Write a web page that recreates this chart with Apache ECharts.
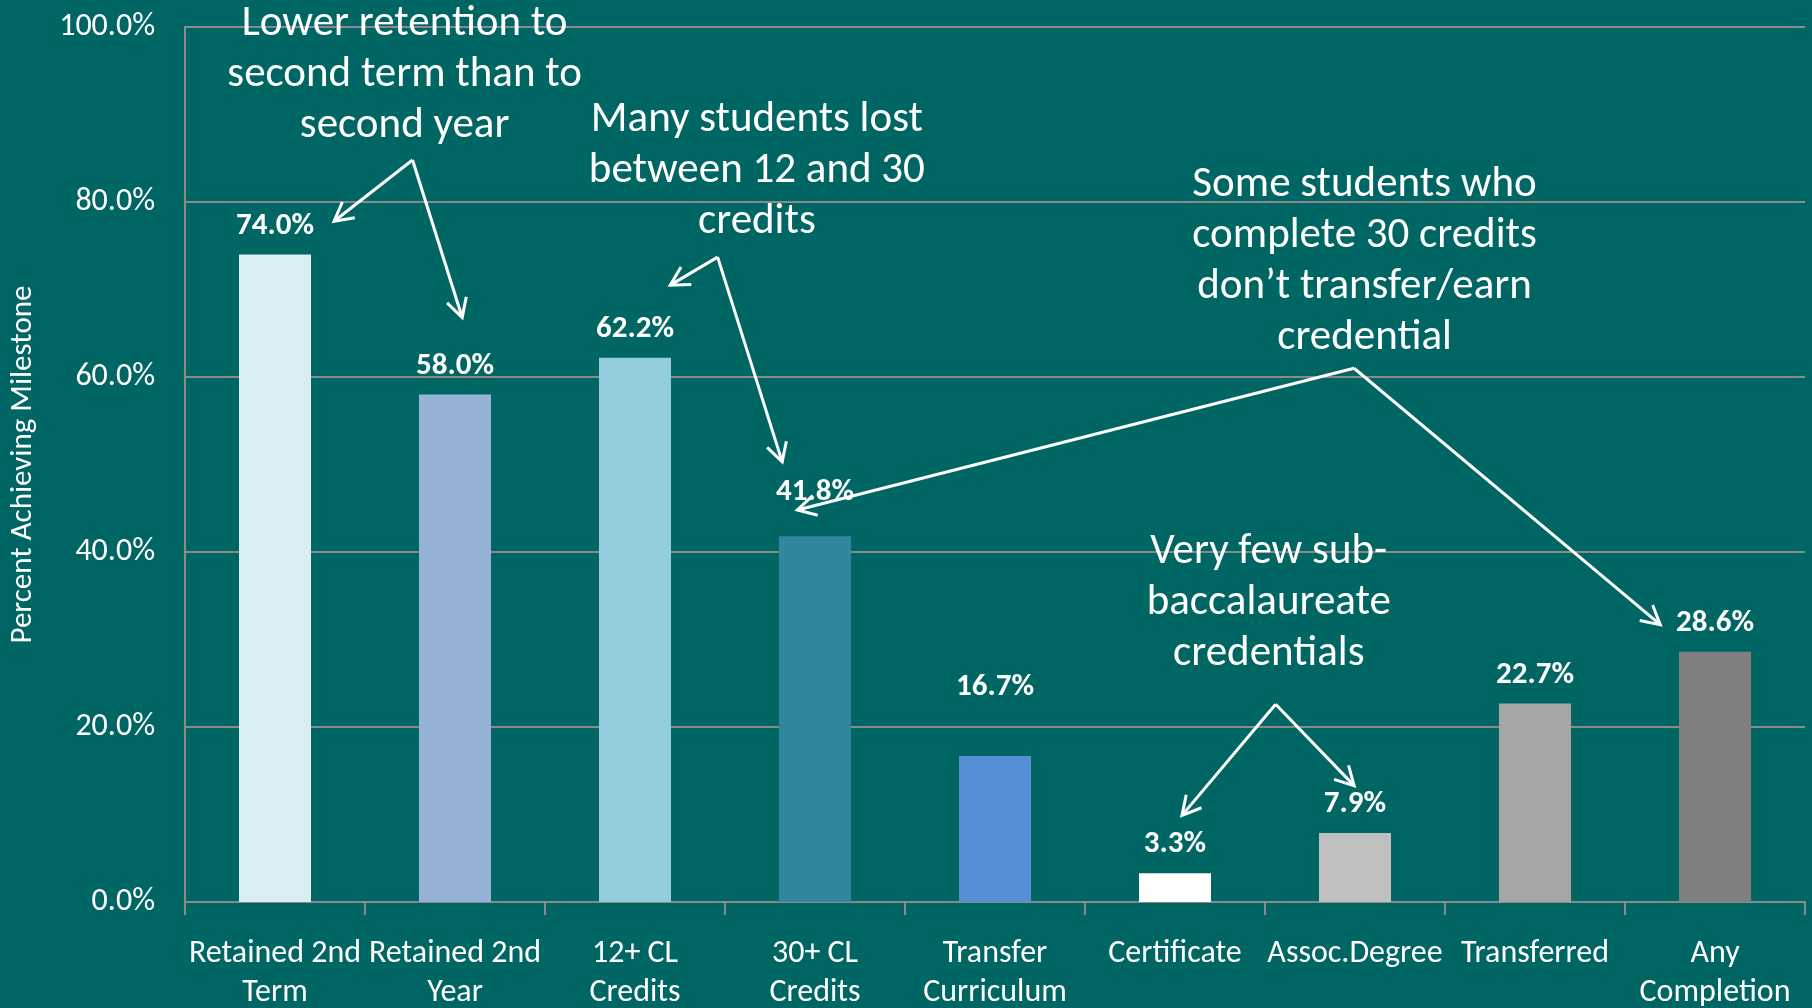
<!DOCTYPE html>
<html>
<head>
<meta charset="utf-8">
<script src="https://cdn.jsdelivr.net/npm/echarts@6/dist/echarts.min.js"></script>
<style>
  html, body { margin: 0; padding: 0; background: #006663; }
  #chart { width: 1812px; height: 1008px; }
</style>
</head>
<body>
<div id="chart"></div>
<script>
const categories = ['Retained 2nd\nTerm', 'Retained 2nd\nYear', '12+ CL\nCredits', '30+ CL\nCredits',
  'Transfer\nCurriculum', 'Certificate', 'Assoc.Degree', 'Transferred', 'Any\nCompletion']
const values = [74.0, 58.0, 62.2, 41.8, 16.7, 3.3, 7.9, 22.7, 28.6]
const barColors = ['#DAEEF3', '#95B3D7', '#93CDDD', '#31859C', '#558ED5', '#FFFFFF', '#BFBFBF', '#A6A6A6', '#7F7F7F']
const yName = 'Percent Achieving Milestone'

// a couple of value labels sit higher than the rest in the original (extra px)
const labelLift = { 3: 16, 4: 40 }

// callouts, anchored in data units: [category index, percent]
const notes = [
  { text: 'Lower retention to\nsecond term than to\nsecond year', at: [0.72, 94.5], apex: [0.764, 84.8], tips: [[0.328, 77.8], [1.040, 66.8]] },
  { text: 'Many students lost\nbetween 12 and 30\ncredits', at: [2.677, 83.5], apex: [2.459, 73.7], tips: [[2.196, 70.5], [2.818, 50.3]] },
  { text: 'Some students who\ncomplete 30 credits\ndon\u2019t transfer/earn\ncredential', at: [6.053, 73.2], apex: [5.995, 61.0], tips: [[2.902, 44.8], [7.696, 31.7]] },
  { text: 'Very few sub-\nbaccalaureate\ncredentials', at: [5.521, 34.2], apex: [5.559, 22.6], tips: [[5.039, 9.9], [5.995, 13.3]] }
]

const font = 'Carlito, Lato, sans-serif'
const gridGray = '#8a8a8a'
const labelDistance = 13

let myChart = echarts.init(document.getElementById('chart'))
myChart.setOption({
  backgroundColor: '#006663',
  animation: false,
  grid: {
    left: 185,
    right: 7,
    top: 27,
    bottom: 106,
    containLabel: false,
    outerBoundsMode: 'none'
  },
  xAxis: {
    type: 'category',
    data: categories,
    axisLine: {
      lineStyle: { color: gridGray, width: 2 }
    },
    axisTick: {
      show: true,
      length: 13,
      lineStyle: { color: gridGray, width: 2 }
    },
    axisLabel: {
      interval: 0,
      margin: 32,
      color: '#ffffff',
      fontFamily: font,
      fontSize: 32,
      lineHeight: 39
    }
  },
  yAxis: {
    type: 'value',
    min: 0,
    max: 100,
    interval: 20,
    name: yName,
    nameLocation: 'middle',
    nameGap: 146,
    nameTextStyle: {
      color: '#ffffff',
      fontFamily: font,
      fontSize: 31
    },
    axisLine: {
      show: true,
      lineStyle: { color: gridGray, width: 2 }
    },
    axisTick: { show: false },
    axisLabel: {
      margin: 30,
      color: '#ffffff',
      fontFamily: font,
      fontSize: 32,
      formatter: function (v) { return v.toFixed(1) + '%' }
    },
    splitLine: {
      lineStyle: { color: gridGray, width: 2 }
    }
  },
  series: [{
    type: 'bar',
    barWidth: '40%',
    data: values.map(function (v, i) {
      let item = { value: v, itemStyle: { color: barColors[i] } }
      if (labelLift[i]) item.label = { distance: labelDistance + labelLift[i] }
      return item
    }),
    label: {
      show: true,
      position: 'top',
      distance: labelDistance,
      color: '#ffffff',
      fontFamily: font,
      fontWeight: 'bold',
      fontSize: 31,
      formatter: function (p) { return p.value.toFixed(1) + '%' }
    }
  }]
})

// category axis rounds fractional indexes, so interpolate between two centres
function toPx (pt) {
  let a = myChart.convertToPixel({ gridIndex: 0 }, [0, pt[1]])
  let b = myChart.convertToPixel({ gridIndex: 0 }, [1, pt[1]])
  return [a[0] + pt[0] * (b[0] - a[0]), a[1]]
}

let elements = []
const white = { stroke: '#ffffff', lineWidth: 3, fill: null }
notes.forEach(function (n) {
  let c = toPx(n.at)
  elements.push({
    type: 'text',
    x: c[0],
    y: c[1],
    z: 100,
    style: {
      text: n.text,
      fill: '#ffffff',
      fontFamily: font,
      fontSize: 43,
      lineHeight: 51,
      align: 'center',
      verticalAlign: 'middle'
    }
  })
  let apex = toPx(n.apex)
  n.tips.forEach(function (t) {
    let tip = toPx(t)
    elements.push({ type: 'polyline', z: 100, shape: { points: [apex, tip] }, style: white })
    let ang = Math.atan2(apex[1] - tip[1], apex[0] - tip[0])
    let len = 21
    let h1 = [tip[0] + len * Math.cos(ang + 0.5), tip[1] + len * Math.sin(ang + 0.5)]
    let h2 = [tip[0] + len * Math.cos(ang - 0.5), tip[1] + len * Math.sin(ang - 0.5)]
    elements.push({ type: 'polyline', z: 100, shape: { points: [h1, tip, h2] }, style: white })
  })
})
myChart.setOption({ graphic: { elements: elements } })
</script>
</body>
</html>
